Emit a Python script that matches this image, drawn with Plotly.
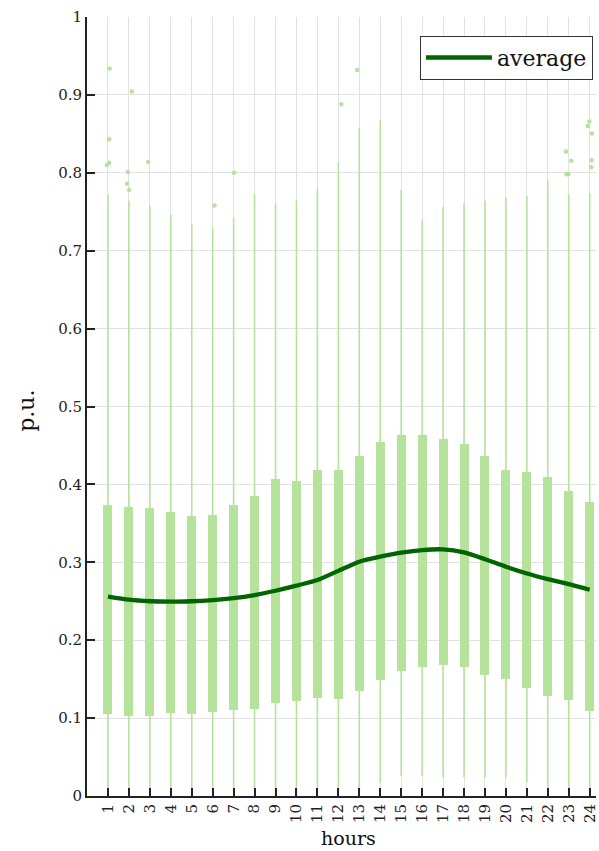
import plotly.graph_objects as go

# ---------------- data ----------------
hours = list(range(1, 25))
hour_labels = [str(h) for h in hours]

q1 = [0.105, 0.103, 0.103, 0.106, 0.105, 0.108, 0.110, 0.112, 0.120, 0.122, 0.126, 0.124,
      0.135, 0.149, 0.161, 0.165, 0.168, 0.165, 0.155, 0.150, 0.139, 0.128, 0.123, 0.109]
q3 = [0.374, 0.371, 0.370, 0.364, 0.359, 0.361, 0.373, 0.385, 0.407, 0.404, 0.419, 0.418,
      0.437, 0.454, 0.464, 0.464, 0.458, 0.452, 0.436, 0.419, 0.416, 0.409, 0.391, 0.378]
whisker_low = [0.0, 0.0, 0.0, 0.0, 0.0, 0.0, 0.0, 0.0, 0.0, 0.0, 0.0, 0.0,
               0.0, 0.017, 0.026, 0.026, 0.024, 0.024, 0.024, 0.023, 0.018, 0.0, 0.0, 0.0]
whisker_high = [0.772, 0.764, 0.757, 0.746, 0.734, 0.729, 0.742, 0.7725, 0.761, 0.765, 0.780, 0.813,
                0.858, 0.868, 0.778, 0.739, 0.756, 0.761, 0.764, 0.768, 0.770, 0.790, 0.772, 0.774]
average = [0.256, 0.252, 0.250, 0.2494, 0.250, 0.2515, 0.254, 0.258, 0.2635, 0.270, 0.2772, 0.289,
           0.3008, 0.3072, 0.3123, 0.3157, 0.3166, 0.3127, 0.304, 0.2943, 0.2857, 0.2785, 0.272, 0.2648]

outlier_hour = [1, 1, 1, 1, 2, 2, 2, 2, 3, 6, 7, 12, 13, 23, 23, 23, 23, 24, 24, 24, 24, 24]
outlier_value = [0.934, 0.843, 0.813, 0.810, 0.9045, 0.801, 0.786, 0.778, 0.814, 0.758, 0.800,
                 0.888, 0.932, 0.8275, 0.8155, 0.798, 0.798, 0.866, 0.860, 0.8505, 0.816, 0.807]
outlier_jitter = [0.08, 0.06, 0.06, -0.05, 0.14, -0.05, -0.09, 0.01, -0.08, 0.09, 0.02,
                  0.14, -0.10, -0.13, 0.12, -0.11, -0.02, -0.02, -0.10, 0.10, 0.09, 0.07]

# ---------------- styles ----------------
BOX = "#b5e39c"
AVG = "#006400"
FONT = "DejaVu Serif"

fig = go.Figure()

# whiskers
wx, wy = [], []
for h, lo, hi in zip(hours, whisker_low, whisker_high):
    wx += [h, h, None]
    wy += [lo, hi, None]
fig.add_trace(go.Scatter(x=wx, y=wy, mode="lines", line=dict(color=BOX, width=1.6),
                         showlegend=False, hoverinfo="skip"))

# boxes (interquartile range)
fig.add_trace(go.Bar(x=hours, y=[b - a for a, b in zip(q1, q3)], base=q1, width=0.43,
                     marker=dict(color=BOX, line=dict(width=0)), showlegend=False))

# outliers
fig.add_trace(go.Scatter(x=[h + j for h, j in zip(outlier_hour, outlier_jitter)], y=outlier_value,
                         mode="markers", marker=dict(color=BOX, size=4.5, line=dict(width=0)),
                         showlegend=False))

# average
fig.add_trace(go.Scatter(x=hours, y=average, mode="lines", name="average",
                         line=dict(color=AVG, width=4.3, shape="spline", smoothing=0.6)))

fig.update_layout(
    width=599, height=851,
    margin=dict(l=87, r=0, t=17, b=55),
    paper_bgcolor="white", plot_bgcolor="white",
    font=dict(family=FONT, color="#222", size=15),
    bargap=0,
    legend=dict(x=0.994, xanchor="right", y=0.976, yanchor="top",
                font=dict(family=FONT, size=22, color="#111"),
                bordercolor="#333", borderwidth=1, bgcolor="white",
                itemwidth=66),
    annotations=[
        dict(text="p.u.", xref="paper", yref="paper", x=-0.119, y=0.495,
             xanchor="center", yanchor="middle", textangle=-90, showarrow=False,
             font=dict(family=FONT, size=22, color="#111")),
        dict(text="hours", xref="paper", yref="paper", x=0.513, y=-0.054,
             xanchor="center", yanchor="middle", showarrow=False,
             font=dict(family=FONT, size=19, color="#111")),
    ],
)

fig.update_xaxes(range=[0, 24.3], tickmode="array", tickvals=hours, ticktext=hour_labels,
                 tickangle=-90, ticks="inside", ticklen=8, tickwidth=2, tickcolor="#222",
                 ticklabeloverflow="allow",
                 showline=True, linecolor="#222", linewidth=2,
                 showgrid=True, gridcolor="#e2e2e2", gridwidth=1, zeroline=False,
                 tickfont=dict(size=15, family=FONT, color="#222"))
fig.update_yaxes(range=[0, 1], tickmode="array",
                 tickvals=[0, 0.1, 0.2, 0.3, 0.4, 0.5, 0.6, 0.7, 0.8, 0.9, 1],
                 ticktext=["0", "0.1", "0.2", "0.3", "0.4", "0.5", "0.6", "0.7", "0.8", "0.9", "1"],
                 ticks="inside", ticklen=8, tickwidth=2, tickcolor="#222",
                 ticklabeloverflow="allow",
                 showline=True, linecolor="#222", linewidth=2,
                 showgrid=True, gridcolor="#e2e2e2", gridwidth=1, zeroline=False,
                 tickfont=dict(size=15, family=FONT, color="#222"))

fig.write_html("out.html")
